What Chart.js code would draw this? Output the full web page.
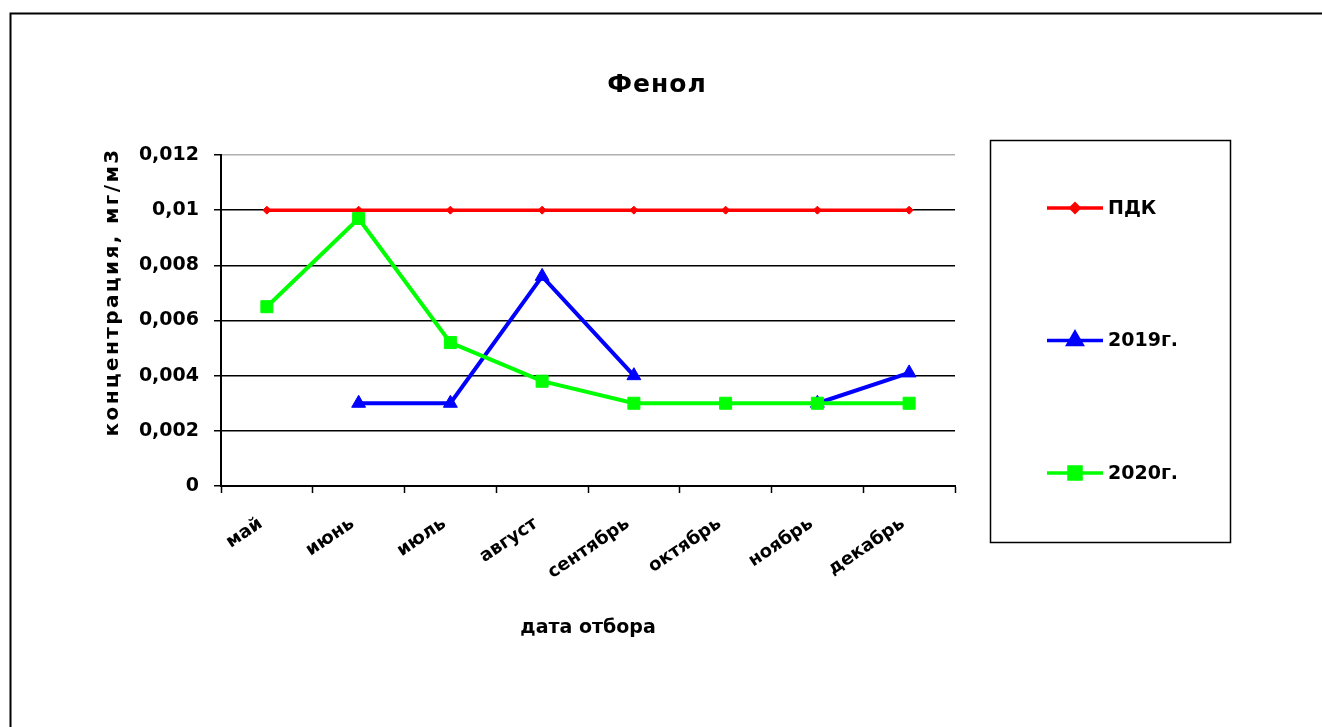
<!doctype html>
<html>
<head>
<meta charset="utf-8">
<title>Фенол</title>
<script src="https://cdn.jsdelivr.net/npm/chart.js@4/dist/chart.umd.min.js"></script>
<style>
body { margin: 0; background: #fff; }
#wrap { width: 1322px; height: 727px; }
</style>
</head>
<body>
<div id="wrap"><canvas id="canvas" width="1322" height="727"></canvas></div>
<script>
// data
var chartTitle = 'Фенол';
var months = ['май', 'июнь', 'июль', 'август', 'сентябрь', 'октябрь', 'ноябрь', 'декабрь'];
var pdk   = [0.01, 0.01, 0.01, 0.01, 0.01, 0.01, 0.01, 0.01];
var y2019 = [null, 0.003, 0.003, 0.0076, 0.004, null, 0.003, 0.0041];
var y2020 = [0.0065, 0.0097, 0.0052, 0.0038, 0.003, 0.003, 0.003, 0.003];
var yTitle = 'концентрация, мг/м3';
var xTitle = 'дата отбора';

var FONT = 'DejaVu Sans';

// frame, titles and boxed legend (excel style)
var decor = {
	id: 'decor',
	afterDraw: function(chart) {
		var ctx = chart.ctx;
		ctx.save();
		ctx.strokeStyle = '#000';
		ctx.lineWidth = 2;
		ctx.strokeRect(10.5, 13.5, 1400, 800);

		ctx.fillStyle = '#000';
		ctx.font = 'bold 25px "' + FONT + '"';
		ctx.textAlign = 'center';
		ctx.textBaseline = 'middle';
		ctx.letterSpacing = '1px';
		ctx.fillText(chartTitle, 657, 85);

		// y axis title, spaced out like the original
		ctx.save();
		ctx.translate(113, 292);
		ctx.rotate(-Math.PI / 2);
		ctx.font = 'bold 20px "' + FONT + '"';
		ctx.letterSpacing = '2.4px';
		ctx.fillText(yTitle, 0, 0);
		ctx.restore();

		// legend box
		ctx.letterSpacing = '0px';
		ctx.lineWidth = 1.5;
		ctx.strokeRect(990.5, 140.5, 240, 402);
		ctx.textAlign = 'left';
		ctx.font = 'bold 19px "' + FONT + '"';
		chart.data.datasets.forEach(function(ds, i) {
			var y = 208 + i * 132.5;
			ctx.strokeStyle = ds.borderColor;
			ctx.lineWidth = 3.5;
			ctx.beginPath();
			ctx.moveTo(1047, y);
			ctx.lineTo(1103, y);
			ctx.stroke();
			ctx.fillStyle = ds.pointBackgroundColor;
			ctx.strokeStyle = ds.borderColor;
			Chart.helpers.drawPoint(ctx, {
				pointStyle: ds.pointStyle, radius: ds.pointRadius,
				borderWidth: ds.pointBorderWidth, rotation: 0
			}, 1075, y);
			ctx.fillStyle = '#000';
			ctx.fillText(ds.label, 1108, y + 1);
		});
		ctx.restore();
	}
};

var ctx = document.getElementById('canvas').getContext('2d');
window.myLine = new Chart(ctx, {
	type: 'line',
	data: {
		labels: months,
		datasets: [{
			label: 'ПДК',
			data: pdk,
			borderColor: '#ff0000',
			backgroundColor: '#ff0000',
			pointBackgroundColor: '#ff0000',
			borderWidth: 3.5,
			pointStyle: 'rectRot',
			pointRadius: 4,
			pointBorderWidth: 1,
			order: 2
		}, {
			label: '2019г.',
			data: y2019,
			borderColor: '#0000ff',
			backgroundColor: '#0000ff',
			pointBackgroundColor: '#0000ff',
			borderWidth: 4,
			pointStyle: 'triangle',
			pointRadius: 8,
			pointBorderWidth: 1,
			order: 1
		}, {
			label: '2020г.',
			data: y2020,
			borderColor: '#00ff00',
			backgroundColor: '#00ff00',
			pointBackgroundColor: '#00ff00',
			borderWidth: 4,
			pointStyle: 'rect',
			pointRadius: 8.5,
			pointBorderWidth: 1,
			order: 0
		}]
	},
	options: {
		responsive: false,
		animation: false,
		devicePixelRatio: 1,
		spanGaps: false,
		elements: { line: { tension: 0 } },
		layout: { padding: { top: 155, right: 367, left: 103, bottom: 88 } },
		plugins: {
			legend: { display: false },
			title: { display: false },
			tooltip: { enabled: false }
		},
		scales: {
			x: {
				offset: true,
				border: { color: '#000', width: 2 },
				grid: { offset: true, drawOnChartArea: false, drawTicks: true, tickLength: 7, tickColor: '#000', tickWidth: 1.5 },
				ticks: {
					color: '#000', font: { family: FONT, weight: 'bold', size: 18 },
					minRotation: 34, maxRotation: 34, padding: 20, labelOffset: -6, autoSkip: false
				},
				title: {
					display: true, text: xTitle, color: '#000',
					font: { family: FONT, weight: 'bold', size: 19 }, padding: { top: 0, bottom: 0 }
				},
				afterFit: function(scale) { scale.height = 153; }
			},
			y: {
				min: 0, max: 0.012,
				border: { color: '#000', width: 2 },
				grid: {
					color: function(c) { return c.tick && c.tick.value >= 0.012 ? '#b0b0b0' : '#000'; },
					lineWidth: 1.5, tickLength: 7, tickColor: '#000'
				},
				ticks: {
					stepSize: 0.002, padding: 15, color: '#000',
					font: { family: FONT, weight: 'bold', size: 19 },
					callback: function(v) { return String(Number(v.toFixed(3))).replace('.', ','); }
				},
				title: { display: false },
				afterFit: function(scale) { scale.width = 118; }
			}
		}
	},
	plugins: [decor]
});
</script>
</body>
</html>
